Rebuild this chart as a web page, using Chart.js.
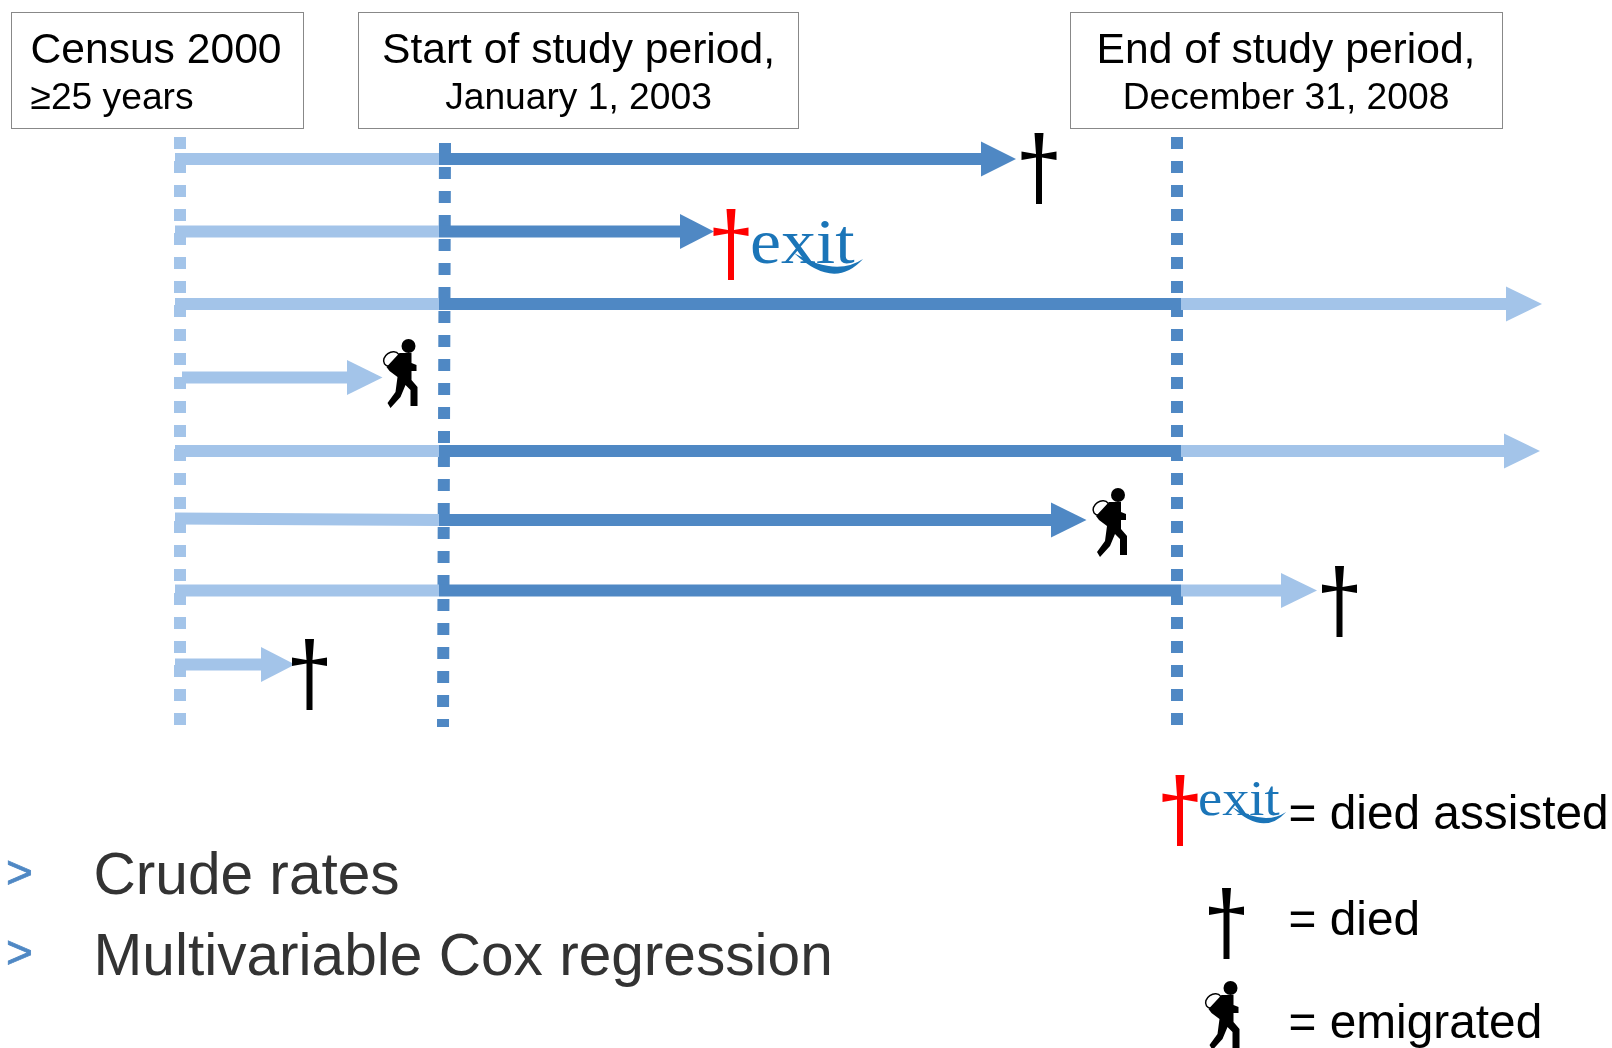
<!DOCTYPE html>
<html lang="en">
<head>
    <meta charset="UTF-8">
    <title>Study timeline</title>
    <script src="https://cdn.jsdelivr.net/npm/chart.js"></script>
    <style>
        html, body { margin: 0; padding: 0; background: #fff; overflow: hidden; }
        #wrap { width: 1612px; height: 1048px; }
    </style>
</head>
<body>
    <div id="wrap"><canvas id="timeline" width="1612" height="1048"></canvas></div>

    <script>
        // rows top to bottom, one entry per person, on a 1612 x 1048 axis
        const rowY = [159, 231.5, 304, 377.5, 451, 520, 590.5, 664.5];
        const rowStartY = [159, 231.5, 304, 377.5, 451, 518.5, 590.5, 664.5];
        const lightStart = [175, 175, 175, 182, 175, 175, 175, 175];
        const lightEnd = [439, 439, 439, 347, 439, 439, 439, 261];
        const darkEnd = [981, 680, 1181, null, 1181, 1051, 1181, null];
        const afterEnd = [null, null, 1506, null, 1504, null, 1281, null];
        const arrowTip = [1016, 714, 1542, 382.5, 1540, 1086.5, 1317, 295];
        const rowOutcome = ['died', 'exit', null, 'emigrated', null, 'emigrated', 'died', 'died'];
        const outcomeX = [1039, 731, null, 408.5, null, 1118, 1339.5, 309.5];
        const outcomeY = [156, 232, null, 346, null, 495, 589, 662];

        // vertical dotted lines: census, start, end
        const censusLine = [[180, 137], [180, 725]];
        const startLine = [[445, 143], [443, 727]];
        const endLine = [[1177, 137], [1177, 725]];

        const censusLabels = ['Census 2000', '≥25 years'];
        const startLabels = ['Start of study period,', 'January 1, 2003'];
        const endLabels = ['End of study period,', 'December 31, 2008'];
        const bulletLabels = ['Crude rates', 'Multivariable Cox regression'];
        const legendLabels = ['= died assisted', '= died', '= emigrated'];

        const DARK = '#4f88c4';
        const LIGHT = '#a3c4e9';
        const EXIT_BLUE = '#1b75b8';

        function xy(points) {
            return points.map(p => ({ x: p[0], y: p[1] }));
        }

        function barDataset(x0, y0, x1, y1, color, order) {
            return {
                data: xy([[x0, y0], [x1, y1]]),
                borderColor: color,
                borderWidth: 12,
                borderCapStyle: 'butt',
                pointRadius: 0,
                showLine: true,
                order: order
            };
        }

        function dottedDataset(points, color) {
            return {
                data: xy(points),
                borderColor: color,
                borderWidth: 12,
                borderDash: [12, 12],
                borderCapStyle: 'butt',
                pointRadius: 0,
                showLine: true,
                order: 10
            };
        }

        const datasets = [
            dottedDataset(censusLine, LIGHT),
            dottedDataset(startLine, DARK),
            dottedDataset(endLine, DARK)
        ];
        rowY.forEach((y, i) => {
            datasets.push(barDataset(lightStart[i], rowStartY[i], lightEnd[i], y, LIGHT, 5));
            if (darkEnd[i] !== null) datasets.push(barDataset(lightEnd[i], y, darkEnd[i], y, DARK, 4));
            if (afterEnd[i] !== null) datasets.push(barDataset(darkEnd[i], y, afterEnd[i], y, LIGHT, 3));
        });

        // --- icons, drawn around a pixel position taken from the scales ---
        function drawCross(c, x, y, color) {
            c.fillStyle = color;
            c.beginPath();
            c.moveTo(x - 4.5, y - 23);
            c.lineTo(x + 4.5, y - 23);
            c.lineTo(x + 3, y - 2);
            c.lineTo(x + 17.5, y - 4.5);
            c.lineTo(x + 17.5, y + 4);
            c.lineTo(x + 3, y + 1.5);
            c.lineTo(x + 3, y + 48);
            c.lineTo(x - 3, y + 48);
            c.lineTo(x - 3, y + 1.5);
            c.lineTo(x - 17.5, y + 4);
            c.lineTo(x - 17.5, y - 4.5);
            c.lineTo(x - 3, y - 2);
            c.closePath();
            c.fill();
        }

        function drawExit(c, x, baseline, k) {
            c.save();
            c.translate(x, baseline);
            c.scale(k, k);
            c.fillStyle = EXIT_BLUE;
            c.save();
            c.scale(1.09, 1);
            c.font = '64px "Liberation Serif"';
            c.textAlign = 'left';
            c.textBaseline = 'alphabetic';
            c.fillText('exit', 0, 0);
            c.restore();
            c.beginPath();
            c.moveTo(44, -10);
            c.quadraticCurveTo(84, 28, 113, -4);
            c.quadraticCurveTo(86, 14, 44, -10);
            c.fill();
            c.restore();
        }

        function drawHiker(c, x, y) {
            // (x, y) is the centre of the head
            const pts = [[-9, 7], [3, 7], [3, 17], [8, 19], [8, 25], [3, 25], [3, 34], [9, 41], [9, 60],
                [2, 60], [2, 44], [-3, 39], [-8, 51], [-18, 62], [-21, 57], [-13, 46], [-11, 31], [-19, 25], [-22, 21]];
            c.fillStyle = '#000';
            c.beginPath();
            c.arc(x, y, 7, 0, Math.PI * 2);
            c.fill();
            c.beginPath();
            pts.forEach((p, i) => i ? c.lineTo(x + p[0], y + p[1]) : c.moveTo(x + p[0], y + p[1]));
            c.closePath();
            c.fill();
            c.strokeStyle = '#000';
            c.lineWidth = 1.5;
            c.beginPath();
            c.ellipse(x - 17, y + 13, 8.5, 6.5, -0.6, 0, Math.PI * 2);
            c.stroke();
        }

        function drawOutcome(c, kind, x, y) {
            if (kind === 'died') drawCross(c, x, y, '#000');
            if (kind === 'exit') {
                drawCross(c, x, y, '#ff0000');
                drawExit(c, x + 19, y + 31, 1);
            }
            if (kind === 'emigrated') drawHiker(c, x, y);
        }

        function text(c, str, x, y, size, color, align) {
            c.font = size + 'px "Liberation Sans"';
            c.fillStyle = color || '#000';
            c.textAlign = align || 'left';
            c.textBaseline = 'alphabetic';
            c.fillText(str, x, y);
        }

        function bulletMark(c, y) {
            text(c, '>', 6, y, 46, DARK);
            c.strokeStyle = DARK;
            c.lineWidth = 0.8;
            c.strokeText('>', 6, y);
        }

        function box(c, x0, y0, x1, y1) {
            c.strokeStyle = '#888';
            c.lineWidth = 1;
            c.strokeRect(x0 + 0.5, y0 + 0.5, x1 - x0, y1 - y0);
        }

        const diagramPlugin = {
            id: 'diagram',
            afterDatasetsDraw(chart) {
                const c = chart.ctx;
                const px = v => chart.scales.x.getPixelForValue(v);
                const py = v => chart.scales.y.getPixelForValue(v);
                c.save();

                // arrow heads at the end of each row
                rowY.forEach((y, i) => {
                    const base = afterEnd[i] !== null ? afterEnd[i] : (darkEnd[i] !== null ? darkEnd[i] : lightEnd[i]);
                    c.fillStyle = (afterEnd[i] === null && darkEnd[i] !== null) ? DARK : LIGHT;
                    c.beginPath();
                    c.moveTo(px(base), py(y) - 17.5);
                    c.lineTo(px(arrowTip[i]), py(y));
                    c.lineTo(px(base), py(y) + 17.5);
                    c.closePath();
                    c.fill();
                    if (rowOutcome[i]) drawOutcome(c, rowOutcome[i], px(outcomeX[i]), py(outcomeY[i]));
                });

                // header boxes
                box(c, 11, 12, 303, 128);
                box(c, 358, 12, 798, 128);
                box(c, 1070, 12, 1502, 128);
                text(c, censusLabels[0], 30.5, 62.5, 42.6);
                text(c, censusLabels[1], 30.5, 108.5, 37.2);
                text(c, startLabels[0], 578.5, 62.5, 42.6, '#000', 'center');
                text(c, startLabels[1], 578.5, 108.5, 37.2, '#000', 'center');
                text(c, endLabels[0], 1286, 62.5, 42.6, '#000', 'center');
                text(c, endLabels[1], 1286, 108.5, 37.2, '#000', 'center');

                // bullets
                bulletMark(c, 888);
                bulletMark(c, 968);
                text(c, bulletLabels[0], 93.5, 893.5, 58.6, '#333');
                text(c, bulletLabels[1], 93.5, 974.5, 58.6, '#333');

                // key
                drawCross(c, px(1180), py(798), '#ff0000');
                drawExit(c, px(1198), py(815), 0.78);
                drawOutcome(c, 'died', px(1226.5), py(911));
                drawOutcome(c, 'emigrated', px(1230.5), py(988));
                text(c, legendLabels[0], 1288.5, 828.5, 47.8);
                text(c, legendLabels[1], 1288.5, 934.5, 47.8);
                text(c, legendLabels[2], 1288.5, 1037.5, 47.8);

                c.restore();
            }
        };

        new Chart(document.getElementById('timeline').getContext('2d'), {
            type: 'scatter',
            data: { datasets: datasets },
            options: {
                responsive: false,
                animation: false,
                layout: { padding: 0 },
                plugins: { legend: { display: false }, tooltip: { enabled: false } },
                scales: {
                    x: { type: 'linear', display: false, min: 0, max: 1612 },
                    y: { type: 'linear', display: false, min: 0, max: 1048, reverse: true }
                }
            },
            plugins: [diagramPlugin]
        });
    </script>
</body>
</html>
